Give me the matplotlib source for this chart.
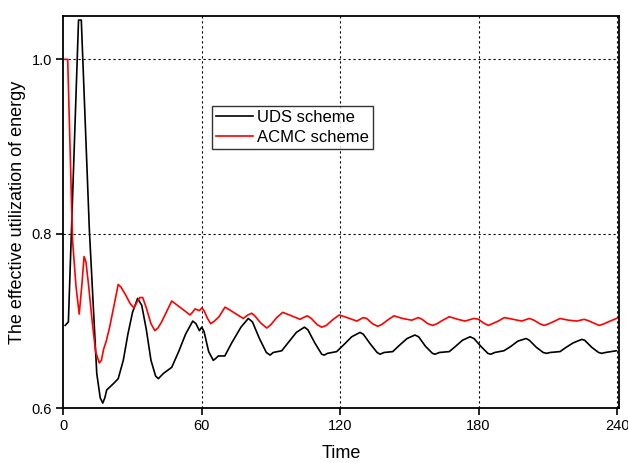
import matplotlib
matplotlib.use("Agg")
import matplotlib.pyplot as plt

plt.rcParams['font.family'] = ['Liberation Sans', 'DejaVu Sans']

# UDS scheme
uds_t = [0.8, 2.2, 6.6, 7.8, 11.3, 11.6, 14.5, 16.0, 17.1, 18.0, 18.8, 20, 22, 23.8,
         26, 28, 30, 32.2, 34, 36, 38, 40, 41.2, 42.3, 43.4, 47, 50, 53, 56.1, 57.5,
         59, 60, 61, 63, 65, 66, 67.2, 70, 73, 77, 80.2, 82, 85, 88, 89.6, 91, 94.7,
         98, 101, 104.5, 106, 109, 112, 113.1, 114.5, 118.5, 122, 125, 128.6, 130,
         133, 136, 137.3, 139, 142.8, 146, 149, 152.4, 154, 157, 160, 161.1, 163,
         167.3, 170, 173, 176.3, 178, 181, 184, 185.3, 187, 191, 194, 197, 200.6,
         202, 205, 208, 209.5, 211, 215.3, 218, 221, 224.7, 226, 229, 232, 233.4,
         235, 239.8]
uds_y = [0.695, 0.699, 1.045, 1.045, 0.804, 0.789, 0.640, 0.612, 0.606, 0.612, 0.621,
         0.624, 0.629, 0.634, 0.655, 0.685, 0.710, 0.726, 0.718, 0.690, 0.655, 0.637,
         0.634, 0.637, 0.640, 0.647, 0.665, 0.685, 0.700, 0.697, 0.689, 0.693, 0.688,
         0.665, 0.655, 0.657, 0.660, 0.660, 0.675, 0.693, 0.703, 0.699, 0.680, 0.664,
         0.661, 0.664, 0.666, 0.677, 0.687, 0.693, 0.690, 0.675, 0.662, 0.661, 0.663,
         0.665, 0.674, 0.682, 0.687, 0.685, 0.674, 0.664, 0.662, 0.664, 0.665, 0.673,
         0.680, 0.684, 0.682, 0.671, 0.663, 0.662, 0.664, 0.665, 0.671, 0.678, 0.682,
         0.680, 0.671, 0.663, 0.662, 0.664, 0.666, 0.671, 0.677, 0.680, 0.678, 0.670,
         0.664, 0.663, 0.664, 0.665, 0.670, 0.675, 0.679, 0.678, 0.670, 0.664, 0.663,
         0.664, 0.666]

# ACMC scheme
acmc_t = [0.7, 1.9, 4.0, 5.5, 6.9, 8.0, 9.0, 9.8, 11, 12.5, 14, 15.6, 16.5, 17.5, 18.5,
          20, 22, 23.8, 25, 27, 29, 30.6, 32, 33.2, 34.4, 36, 38, 39.7, 41, 42.6, 45,
          47, 50, 53, 54.9, 56, 57.1, 58, 59, 60, 61, 62.5, 63.9, 65.5, 67.5, 70.1,
          72, 75, 78, 80, 81.7, 83, 85.5, 88.2, 90, 92.5, 95.1, 98, 102.6, 104, 105.8,
          107.5, 110, 112, 114, 117, 119.6, 123, 127.2, 130, 131.5, 134, 136.3, 138,
          140.5, 143.3, 147, 151, 153.9, 155.5, 158, 160.1, 162, 164.5, 167.3, 171,
          174.1, 178, 180, 182, 184.2, 186, 188.5, 191.2, 195, 198.7, 202, 204, 206.5,
          208.4, 210.5, 213, 215.3, 219, 222.5, 225.8, 228, 230.5, 232.3, 234.5, 237,
          239.8]
acmc_y = [1.0, 1.0, 0.793, 0.740, 0.708, 0.740, 0.774, 0.768, 0.740, 0.700, 0.665,
          0.652, 0.655, 0.668, 0.676, 0.692, 0.718, 0.742, 0.739, 0.730, 0.720, 0.715,
          0.722, 0.727, 0.727, 0.715, 0.697, 0.689, 0.692, 0.699, 0.712, 0.723, 0.717,
          0.711, 0.707, 0.710, 0.714, 0.713, 0.712, 0.715, 0.712, 0.703, 0.697, 0.700,
          0.705, 0.716, 0.713, 0.708, 0.703, 0.707, 0.709, 0.706, 0.698, 0.692, 0.696,
          0.704, 0.710, 0.707, 0.702, 0.704, 0.706, 0.703, 0.696, 0.693, 0.695, 0.702,
          0.707, 0.704, 0.700, 0.704, 0.703, 0.697, 0.694, 0.696, 0.701, 0.706, 0.703,
          0.701, 0.704, 0.702, 0.697, 0.695, 0.697, 0.701, 0.705, 0.702, 0.700, 0.703,
          0.702, 0.698, 0.695, 0.697, 0.700, 0.704, 0.702, 0.700, 0.703, 0.701, 0.697,
          0.695, 0.697, 0.700, 0.703, 0.701, 0.700, 0.702, 0.700, 0.697, 0.695, 0.697,
          0.700, 0.703]

x_ticks = [0, 60, 120, 180, 240]
y_ticks = [0.6, 0.8, 1.0]

fig = plt.figure(figsize=(6.28, 4.63), dpi=100)
ax = fig.add_axes([0.1008, 0.1181, 0.8854, 0.848])

ax.plot(uds_t, uds_y, color='black', lw=1.2, label='UDS scheme')
ax.plot(acmc_t, acmc_y, color='#ff0000', lw=1.2, label='ACMC scheme')

ax.set_xlim(0, 241)
ax.set_ylim(0.6, 1.05)
ax.set_xticks(x_ticks)
ax.set_yticks(y_ticks)
ax.set_yticklabels([f"{v:.1f}" for v in y_ticks])

for v in x_ticks[1:]:
    ax.axvline(v, color='black', lw=0.8, ls=(0, (2, 2.5)), zorder=0)
for v in y_ticks[1:]:
    ax.axhline(v, color='black', lw=0.8, ls=(0, (2, 2.5)), zorder=0)

for s in ax.spines.values():
    s.set_linewidth(1.3)
ax.tick_params(direction='out', length=5, width=1.2, labelsize=10.5, pad=3)

ax.set_xlabel('Time', fontsize=13, labelpad=8)
ax.set_ylabel('The effective utilization of energy', fontsize=13, labelpad=4)

leg = ax.legend(loc='upper left', bbox_to_anchor=(0.267, 0.77), borderaxespad=0,
                fontsize=12, frameon=True, fancybox=False, handlelength=2.2,
                handletextpad=0.25, borderpad=0.25, labelspacing=0.28)
leg.get_frame().set_edgecolor('black')
leg.get_frame().set_linewidth(1.0)

fig.savefig('out.png', dpi=100)
